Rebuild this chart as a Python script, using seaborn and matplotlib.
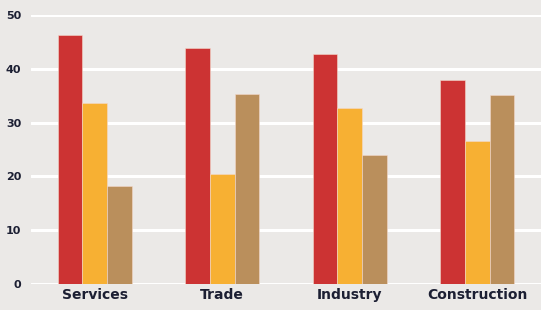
import matplotlib
matplotlib.use('Agg')
import matplotlib.pyplot as plt
import seaborn as sns
import pandas as pd

sectors = ['Services', 'Trade', 'Industry', 'Construction']
series_a = [46.3, 43.8, 42.7, 37.9]
series_b = [33.6, 20.4, 32.8, 26.6]
series_c = [18.2, 35.3, 23.9, 35.1]
series_names = ['A', 'B', 'C']
colors = ['#cc3333', '#f7b033', '#ba8f5c']
bg = '#ebe9e7'

rows = []
for name, vals in zip(series_names, [series_a, series_b, series_c]):
    for s, v in zip(sectors, vals):
        rows.append({'sector': s, 'series': name, 'value': v})
df = pd.DataFrame(rows)

sns.set_style('white')
plt.rcParams['font.family'] = ['DejaVu Sans Condensed', 'DejaVu Sans']

fig = plt.figure(figsize=(5.41, 3.10), dpi=100, facecolor=bg)
ax = fig.add_axes([0.0573, 0.0839, 0.9427, 0.8677])
ax.set_facecolor(bg)

sns.barplot(data=df, x='sector', y='value', hue='series', palette=colors,
            saturation=1, width=0.58, gap=0, edgecolor='#f3d9cc', linewidth=0.4,
            legend=False, ax=ax, zorder=3)

ax.set_ylim(0, 50)
ax.set_xlim(-0.5, 3.5)
ax.set_yticks([0, 10, 20, 30, 40, 50])
ax.yaxis.grid(True, color='white', linewidth=2.2, zorder=0)
ax.set_axisbelow(True)
for sp in ax.spines.values():
    sp.set_visible(False)
ax.set_xlabel('')
ax.set_ylabel('')
ax.tick_params(axis='y', length=0, pad=7, labelsize=8, labelcolor='#1c1f33')
ax.tick_params(axis='x', length=0, pad=3, labelsize=10, labelcolor='#1c1f33')
for lab in ax.get_xticklabels() + ax.get_yticklabels():
    lab.set_fontweight('bold')

fig.savefig('out.png', dpi=100, facecolor=bg)
